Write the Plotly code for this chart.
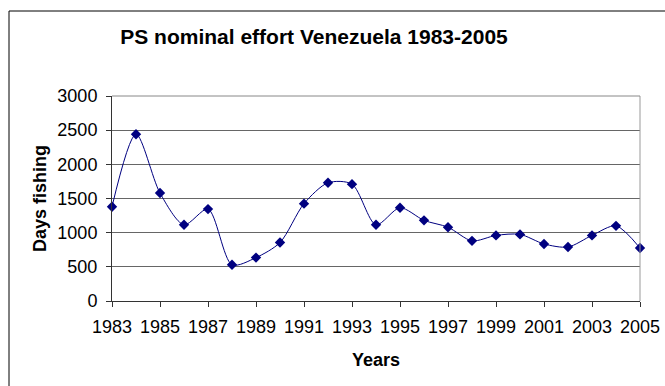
import plotly.graph_objects as go

# PS nominal fishing effort, Venezuela
years = list(range(1983, 2006))
days_fishing = [1380, 2440, 1580, 1115, 1345, 530, 635, 855, 1425, 1730, 1710,
                1115, 1365, 1180, 1080, 880, 960, 975, 835, 790, 960, 1100, 775]
x_ticks = list(range(1983, 2006, 2))
y_ticks = [0, 500, 1000, 1500, 2000, 2500, 3000]

navy = "#000080"
font_family = "Liberation Sans, Arial, sans-serif"

fig = go.Figure()
fig.add_trace(go.Scatter(
    x=years, y=days_fishing,
    mode="lines+markers",
    line=dict(color=navy, width=1, shape="spline", smoothing=0.8),
    marker=dict(symbol="diamond", size=8, color=navy),
    showlegend=False,
    cliponaxis=False,
))

fig.update_layout(
    width=665, height=386,
    margin=dict(l=112, r=25, t=96, b=85, autoexpand=False),
    paper_bgcolor="white", plot_bgcolor="white",
    font=dict(family=font_family, color="black", size=18),
    title=dict(text="<b>PS nominal effort Venezuela 1983-2005</b>",
               x=314 / 665, xanchor="center", y=1 - 37 / 386, yanchor="middle",
               font=dict(size=21)),
    xaxis=dict(
        range=[1983, 2005], tickvals=x_ticks, ticktext=[str(v) for v in x_ticks],
        showgrid=False, zeroline=False, automargin=False,
        showline=True, linecolor="#333333", linewidth=1,
        ticks="outside", ticklen=5, tickcolor="#333333",
        tickfont=dict(size=18), ticklabelstandoff=4,
        title=dict(text="<b>Years</b>", font=dict(size=18), standoff=17),
    ),
    yaxis=dict(
        range=[0, 3000], tickvals=y_ticks,
        showgrid=True, gridcolor="#666666", gridwidth=1, zeroline=False,
        automargin=False,
        showline=True, linecolor="#333333", linewidth=1,
        ticks="outside", ticklen=5, tickcolor="#333333",
        tickfont=dict(size=18), ticklabelstandoff=5,
        title=dict(text="<b>Days fishing</b>", font=dict(size=18), standoff=6),
    ),
)

# gray frame on right/top of the plot area
fig.add_shape(type="line", xref="paper", yref="paper", x0=1, x1=1, y0=0, y1=1,
              line=dict(color="#999999", width=1))
fig.add_shape(type="line", xref="paper", yref="paper", x0=0, x1=1, y0=1, y1=1,
              line=dict(color="#888888", width=1))

# outer chart border
fig.add_shape(type="rect", xref="paper", yref="paper",
              x0=(9 - 112) / 528, x1=1.5, y0=-0.6, y1=1 + (96 - 11) / 205,
              line=dict(color="black", width=1), layer="below")

fig.write_html("out.html")
